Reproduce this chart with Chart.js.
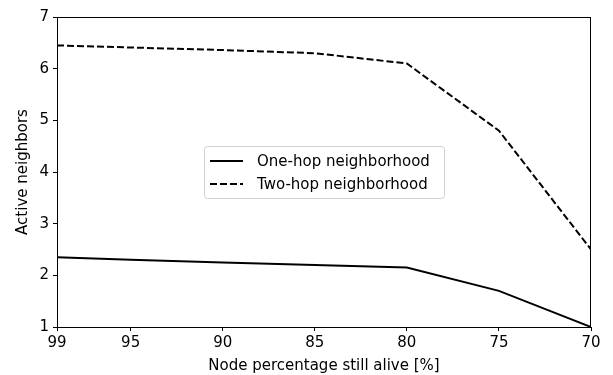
<!DOCTYPE html>
<html>
<head>
<meta charset="utf-8">
<script src="https://cdn.jsdelivr.net/npm/chart.js@4/dist/chart.umd.min.js"></script>
<style>
html,body{margin:0;padding:0;background:#fff;}
#wrap{width:613px;height:375px;}
</style>
</head>
<body>
<div id="wrap"><canvas id="c" width="613" height="375"></canvas></div>
<script>
const xValues = [99, 95, 90, 85, 80, 75, 70];
const oneHop = [2.35, 2.30, 2.25, 2.20, 2.15, 1.70, 1.00];
const twoHop = [6.45, 6.41, 6.36, 6.30, 6.10, 4.80, 2.50];
const xTicks = [99, 95, 90, 85, 80, 75, 70];
const yTicks = [1, 2, 3, 4, 5, 6, 7];
const seriesNames = ['One-hop neighborhood', 'Two-hop neighborhood'];

const FONT = 'DejaVu Sans';
const FS = 15;

const frame = {
  id: 'frame',
  afterDatasetsDraw(chart) {
    const {ctx, chartArea: a} = chart;
    ctx.save();
    ctx.strokeStyle = '#000';
    ctx.lineWidth = 1;
    ctx.strokeRect(Math.round(a.left) + 0.5, Math.round(a.top) + 0.5, Math.round(a.right - a.left) - 1, Math.round(a.bottom - a.top));
    ctx.restore();
  }
};

const legendBox = {
  id: 'legendBox',
  afterDraw(chart) {
    const ctx = chart.ctx;
    const x0 = 204, y0 = 146, w = 240, h = 52;
    ctx.save();
    ctx.fillStyle = 'rgba(255,255,255,0.8)';
    ctx.strokeStyle = '#d0d0d0';
    ctx.lineWidth = 1;
    ctx.beginPath();
    ctx.roundRect(x0 + 0.5, y0 + 0.5, w, h, 3);
    ctx.fill();
    ctx.stroke();
    const rows = [161, 184];
    const dashes = [[], [7, 3]];
    ctx.font = FS + 'px "' + FONT + '"';
    ctx.textBaseline = 'middle';
    ctx.fillStyle = '#000';
    for (let i = 0; i < 2; i++) {
      ctx.beginPath();
      ctx.setLineDash(dashes[i]);
      ctx.strokeStyle = '#000';
      ctx.lineWidth = 2;
      ctx.moveTo(210, rows[i]);
      ctx.lineTo(243, rows[i]);
      ctx.stroke();
      ctx.setLineDash([]);
      ctx.fillText(seriesNames[i], 257, rows[i] + 1);
    }
    ctx.restore();
  }
};

new Chart(document.getElementById('c'), {
  type: 'line',
  data: {
    datasets: [
      {
        label: seriesNames[0],
        data: xValues.map((x, i) => ({x: x, y: oneHop[i]})),
        borderColor: '#000',
        borderWidth: 2,
        pointRadius: 0,
        tension: 0,
        fill: false
      },
      {
        label: seriesNames[1],
        data: xValues.map((x, i) => ({x: x, y: twoHop[i]})),
        borderColor: '#000',
        borderWidth: 2,
        borderDash: [7, 3],
        pointRadius: 0,
        tension: 0,
        fill: false
      }
    ]
  },
  options: {
    responsive: false,
    animation: false,
    devicePixelRatio: 1,
    layout: {padding: {left: 0, top: 17, right: 22, bottom: 0}},
    plugins: {legend: {display: false}, tooltip: {enabled: false}},
    scales: {
      x: {
        type: 'linear',
        reverse: true,
        min: 70,
        max: 99,
        afterBuildTicks(scale) { scale.ticks = xTicks.map(v => ({value: v})); },
        afterFit(scale) { scale.height = 48; },
        border: {display: true, color: '#000', width: 1},
        grid: {drawOnChartArea: false, drawTicks: true, tickLength: 4, color: '#000'},
        ticks: {color: '#000', font: {family: FONT, size: FS}, padding: 3, maxRotation: 0, autoSkip: false},
        title: {display: true, text: 'Node percentage still alive [%]', color: '#000', font: {family: FONT, size: FS}, padding: {top: 0, bottom: 0}}
      },
      y: {
        type: 'linear',
        min: 1,
        max: 7,
        afterBuildTicks(scale) { scale.ticks = yTicks.map(v => ({value: v})); },
        afterFit(scale) { scale.width = 57; },
        border: {display: true, color: '#000', width: 1},
        grid: {drawOnChartArea: false, drawTicks: true, tickLength: 4, color: '#000'},
        ticks: {color: '#000', font: {family: FONT, size: FS}, padding: 4},
        title: {display: true, text: 'Active neighbors', color: '#000', font: {family: FONT, size: FS}, padding: {top: 14, bottom: 4}}
      }
    }
  },
  plugins: [frame, legendBox]
});
</script>
</body>
</html>
